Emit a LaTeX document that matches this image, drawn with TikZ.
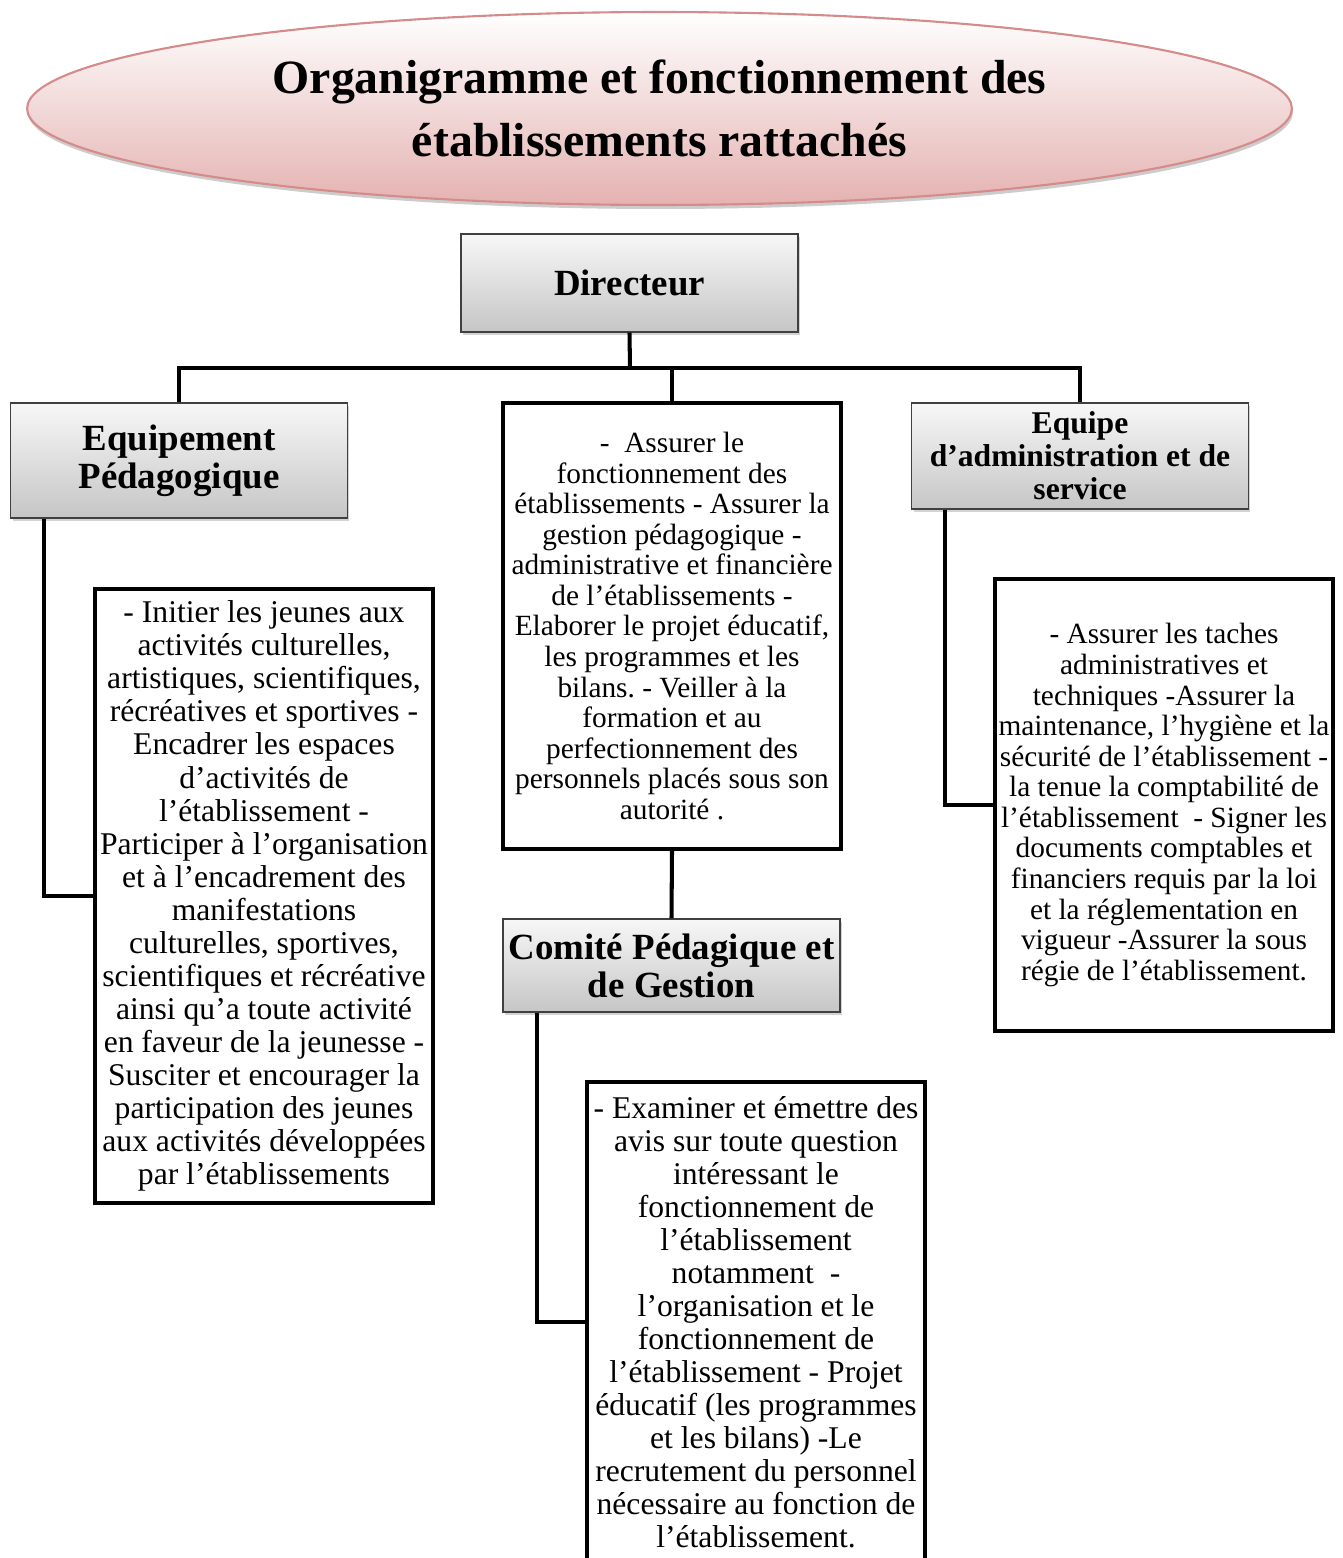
\documentclass[tikz,border=0pt]{standalone}
\usepackage{fontspec}
\setmainfont{Liberation Serif}
\usetikzlibrary{shapes.geometric, shadows}
\definecolor{rosebord}{HTML}{D48B8A}
\definecolor{rosebas}{HTML}{E4B2B1}
\definecolor{grisbord}{HTML}{404040}
\frenchspacing

\begin{document}
\begin{tikzpicture}[x=0.02cm, y=-0.02cm,
  gbox/.style={draw=grisbord, line width=0.8pt, top color=gray!6, bottom color=gray!45,
    align=center, inner sep=0pt, minimum width=6.74cm,
    drop shadow={opacity=0.35, shadow xshift=0.04cm, shadow yshift=-0.06cm}},
  dbox/.style={draw, line width=2.3pt, fill=white, align=center, inner sep=0pt, minimum width=6.76cm},
  grand/.style={font=\fontsize{18}{18.8}\selectfont},
  petit/.style={font=\fontsize{16.7}{17.4}\selectfont},
  link/.style={line width=2.3pt}]
  \useasboundingbox (0,0) rectangle (1342,1558);
  % titre
  \node[ellipse, draw=rosebord, line width=1.2pt, top color=white, bottom color=rosebas,
    minimum width=25.3cm, minimum height=3.86cm, align=center,
    drop shadow={opacity=0.4, shadow xshift=0.02cm, shadow yshift=-0.08cm},
    font=\bfseries\fontsize{27.2}{35.9}\selectfont] (titre) at (659.5,108.5)
    {Organigramme et fonctionnement des\\établissements rattachés};
  % cadres gris
  \node[gbox, minimum height=1.96cm, font=\bfseries\fontsize{21}{21.6}\selectfont] (dir) at (629.5,283) {Directeur};
  \node[gbox, minimum height=2.3cm, font=\bfseries\fontsize{21}{21.6}\selectfont] (equip) at (179,460.5) {Equipement\\Pédagogique};
  \node[gbox, minimum height=2.12cm, font=\bfseries\fontsize{18}{18.8}\selectfont] (admin) at (1080,456) {Equipe\\d’administration et de\\service};
  \node[gbox, minimum height=1.86cm, font=\bfseries\fontsize{21}{21.6}\selectfont] (comite) at (671.5,965.5) {Comité Pédagique et\\de Gestion};
  % missions
  \node[dbox, petit, minimum height=8.92cm] (mission) at (672,626)
    {-\enspace Assurer le\\fonctionnement des\\établissements - Assurer la\\gestion pédagogique -\\administrative et financière\\de l’établissements -\\Elaborer le projet éducatif,\\les programmes et les\\bilans. - Veiller à la\\formation et au\\perfectionnement des\\personnels placés sous son\\autorité .};
  \node[dbox, grand, minimum height=12.28cm] (actlat) at (264,896)
    {- Initier les jeunes aux\\activités culturelles,\\artistiques, scientifiques,\\récréatives et sportives -\\Encadrer les espaces\\d’activités de\\l’établissement -\\Participer à l’organisation\\et à l’encadrement des\\manifestations\\culturelles, sportives,\\scientifiques et récréative\\ainsi qu’a toute activité\\en faveur de la jeunesse -\\Susciter et encourager la\\participation des jeunes\\aux activités développées\\par l’établissements};
  \node[dbox, petit, minimum height=9.04cm] (adminlat) at (1164,805)
    {- Assurer les taches\\administratives et\\techniques -Assurer la\\maintenance, l’hygiène et la\\sécurité de l’établissement -\\la tenue la comptabilité de\\l’établissement \ - Signer les\\documents comptables et\\financiers requis par la loi\\et la réglementation en\\vigueur -Assurer la sous\\régie de l’établissement.};
  \node[dbox, grand, minimum height=9.6cm] (comlat) at (756,1322)
    {- Examiner et émettre des\\avis sur toute question\\intéressant le\\fonctionnement de\\l’établissement\\notamment \ -\\l’organisation et le\\fonctionnement de\\l’établissement - Projet\\éducatif (les programmes\\et les bilans) -Le\\recrutement du personnel\\nécessaire au fonction de\\l’établissement.};
  % liaisons
  \coordinate (bus) at (630,368);
  \draw[link] (dir.south) -- (bus);
  \draw[link] (equip.north) |- (bus) -| (admin.north);
  \draw[link] (mission.north) -- (mission.north |- bus);
  \draw[link] (mission.south) -- (comite.north);
  \draw[link] ([xshift=0.68cm]equip.south west) |- (actlat.west);
  \draw[link] ([xshift=0.68cm]admin.south west) |- (adminlat.west);
  \draw[link] ([xshift=0.7cm]comite.south west) |- (comlat.west);
\end{tikzpicture}
\end{document}
